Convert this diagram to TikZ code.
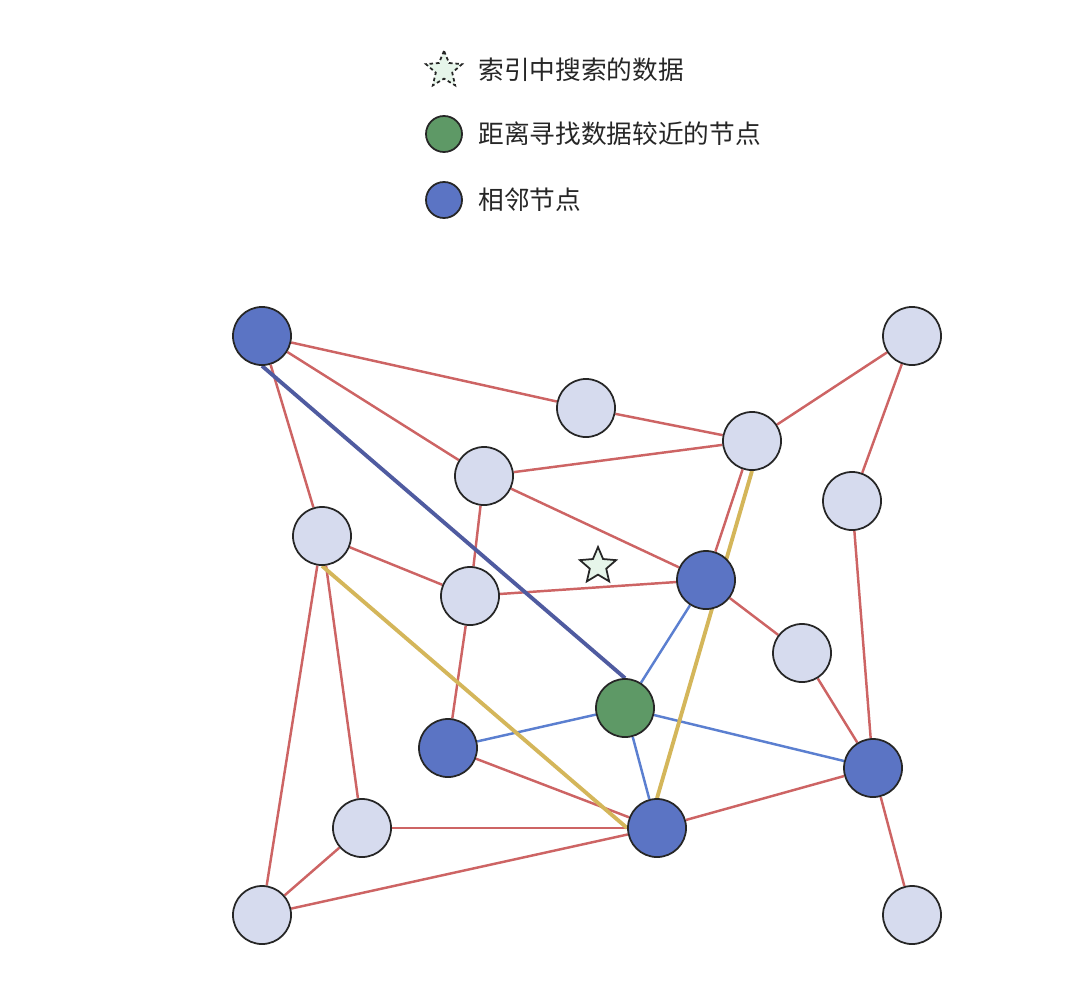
\documentclass[tikz,border=0pt]{standalone}
\usepackage{fontspec}
\newfontfamily\cjk{Noto Sans CJK SC}
\usetikzlibrary{shapes.geometric,backgrounds}
\definecolor{nblue}{HTML}{5B74C4}
\definecolor{nlight}{HTML}{D6DBEE}
\definecolor{ngreen}{HTML}{5E9966}
\definecolor{ered}{HTML}{CD6464}
\definecolor{eyel}{HTML}{D4B65A}
\definecolor{edblue}{HTML}{4F5BA0}
\definecolor{eblue}{HTML}{5B7FD0}
\definecolor{starf}{HTML}{E6F5EA}
\begin{document}
\begin{tikzpicture}[x=0.01cm,y=-0.01cm,
 nd/.style={circle,draw=black!85,line width=0.5pt,minimum size=0.58cm,inner sep=0pt},
 bl/.style={nd,fill=nblue}, lt/.style={nd,fill=nlight}, gr/.style={nd,fill=ngreen},
 red/.style={draw=ered,line width=0.7pt},
 yel/.style={draw=eyel,line width=1.1pt},
 bth/.style={draw=edblue,line width=1.1pt},
 bt/.style={draw=eblue,line width=0.7pt},
 lg/.style={anchor=west,font=\cjk\fontsize{7.3}{8}\selectfont,text=black!85}]
\useasboundingbox (0,0) rectangle (1080,988);
\node[bl] (A) at (262,336) {};
\node[lt] (B) at (586,408) {};
\node[lt] (C) at (912,336) {};
\node[lt] (D) at (752,441) {};
\node[lt] (E) at (484,476) {};
\node[lt] (F) at (852,501) {};
\node[lt] (G) at (322,536) {};
\node[lt] (H) at (470,596) {};
\node[bl] (I) at (706,580) {};
\node[lt] (J) at (802,653) {};
\node[gr] (K) at (625,708) {};
\node[bl] (L) at (448,748) {};
\node[bl] (M) at (873,768) {};
\node[lt] (N) at (362,828) {};
\node[bl] (O) at (657,828) {};
\node[lt] (P) at (262,915) {};
\node[lt] (Q) at (912,915) {};
\node[star,star points=5,star point ratio=2.2,draw=black!85,fill=starf,line width=0.5pt,minimum size=0.38cm,inner sep=0pt] (S) at (598,566) {};
\begin{scope}[on background layer]
\foreach \a/\b in {A/B,B/D,A/E,A/G,E/D,E/I,D/I,C/D,C/F,F/M,G/H,G/N,G/P,E/H,H/I,H/L,I/J,J/M,L/O,N/O,N/P,P/O,O/M,M/Q}
  \draw[red] (\a) -- (\b);
\foreach \b in {I,L,M,O} \draw[bt] (K) -- (\b);
\draw[bth] (A.south) -- (K.north);
\draw[yel] (G.south) -- (O.west);
\draw[yel] (D.south) -- (O.north);
\end{scope}
% legend
\node[star,star points=5,star point ratio=2.2,draw=black!85,dash pattern=on 1pt off 0.8pt,fill=starf,line width=0.5pt,minimum size=0.38cm,inner sep=0pt] (ls) at (444,70) {};
\node[circle,draw=black!85,fill=ngreen,minimum size=0.36cm,inner sep=0pt,line width=0.5pt] (lg1) at (444,134) {};
\node[circle,draw=black!85,fill=nblue,minimum size=0.36cm,inner sep=0pt,line width=0.5pt] (lg2) at (444,200) {};
\node[lg] (t0) at (466,70) {索引中搜索的数据};
\node[lg] (t1) at (466,134) {距离寻找数据较近的节点};
\node[lg] (t2) at (466,200) {相邻节点};
\end{tikzpicture}
\end{document}
